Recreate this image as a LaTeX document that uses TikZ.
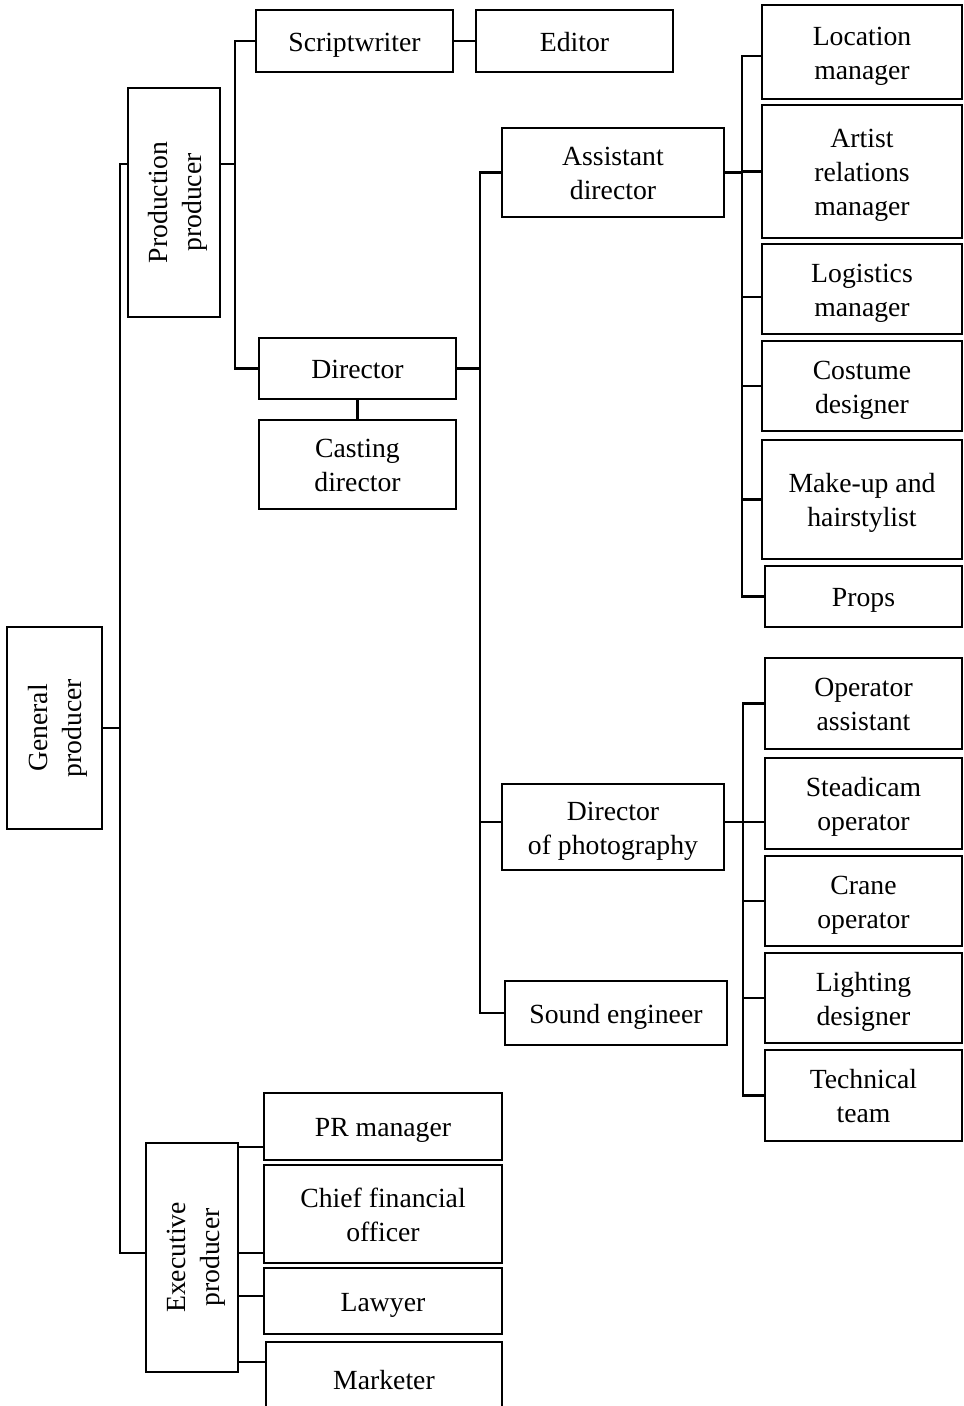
\documentclass[tikz,border=0pt]{standalone}
\usepackage{fontspec}
\setmainfont{Liberation Serif}
\newcommand\bt[2][-3.5pt]{\raisebox{#1}[\height][\depth]{\begin{tabular}{@{}c@{}}#2\end{tabular}}}
\begin{document}
\begin{tikzpicture}[x=1pt,y=-1pt,
  box/.style={draw, line width=2.8pt, inner sep=0pt, outer sep=0pt,
    font=\fontsize{27.7pt}{34pt}\selectfont},
  vtext/.style={rotate=90, inner sep=0pt, font=\fontsize{27.7pt}{34pt}\selectfont},
  conn/.style={line width=2.8pt}]
\useasboundingbox (0,0) rectangle (964,1406);
\clip (0,0) rectangle (964,1406);

% left column
\node[box, minimum width=95pt, minimum height=202pt] (gp) at (54.5,728) {};
\node[vtext] (gpt) at (gp) {\bt{General\\producer}};
\node[box, minimum width=92pt, minimum height=229pt] (pp) at (174,202.5) {};
\node[vtext] (ppt) at (pp) {\bt{Production\\producer}};
\node[box, minimum width=92pt, minimum height=229pt] (ep) at (192,1257.5) {};
\node[vtext] (ept) at (ep) {\bt{Executive\\producer}};

% production branch
\node[box, minimum width=197pt, minimum height=62pt] (sw) at (354.5,41) {\bt{Scriptwriter}};
\node[box, minimum width=197pt, minimum height=62pt] (ed) at (574.5,41) {\bt{Editor}};
\node[box, minimum width=197pt, minimum height=61pt] (dir) at (357.5,368.5) {\bt{Director}};
\node[box, minimum width=197pt, minimum height=89pt] (cd) at (357.5,464.5) {\bt{Casting\\director}};

\node[box, minimum width=222pt, minimum height=89pt] (ad) at (613,172.5) {\bt{Assistant\\director}};
\node[box, minimum width=222pt, minimum height=86pt] (dop) at (613,827) {\bt{Director\\of photography}};
\node[box, minimum width=222pt, minimum height=64pt] (se) at (616,1013) {\bt{Sound engineer}};

% assistant director children
\node[box, minimum width=200pt, minimum height=94pt] (loc) at (862,52) {\bt{Location\\manager}};
\node[box, minimum width=200pt, minimum height=133pt] (art) at (862,171.5) {\bt{Artist\\relations\\manager}};
\node[box, minimum width=200pt, minimum height=90pt] (log) at (862,289) {\bt{Logistics\\manager}};
\node[box, minimum width=200pt, minimum height=90pt] (cos) at (862,386) {\bt{Costume\\designer}};
\node[box, minimum width=200pt, minimum height=119pt] (mak) at (862,499.5) {\bt{Make-up and\\hairstylist}};
\node[box, minimum width=197pt, minimum height=61pt] (prp) at (863.5,596.5) {\bt{Props}};

% director of photography children
\node[box, minimum width=197pt, minimum height=91pt] (opa) at (863.5,703.5) {\bt{Operator\\assistant}};
\node[box, minimum width=197pt, minimum height=91pt] (ste) at (863.5,803.5) {\bt{Steadicam\\operator}};
\node[box, minimum width=197pt, minimum height=90pt] (cra) at (863.5,901) {\bt{Crane\\operator}};
\node[box, minimum width=197pt, minimum height=90pt] (lig) at (863.5,998) {\bt{Lighting\\designer}};
\node[box, minimum width=197pt, minimum height=91pt] (tec) at (863.5,1095.5) {\bt{Technical\\team}};

% executive children
\node[box, minimum width=238pt, minimum height=67pt] (pr) at (383,1126.5) {\bt{PR manager}};
\node[box, minimum width=238pt, minimum height=98pt] (cfo) at (383,1214) {\bt{Chief financial\\officer}};
\node[box, minimum width=238pt, minimum height=66pt] (law) at (383,1301) {\bt{Lawyer}};
\node[box, minimum width=236pt, minimum height=78pt] (mkt) at (384,1381) {\bt[-1.5pt]{Marketer}};

% trunk coordinates
\coordinate (t1) at (120,164);
\coordinate (t2) at (120,1253);
\coordinate (t3) at (235,41);
\coordinate (t4) at (480,0);
\coordinate (t5) at (742,0);
\coordinate (t6) at (743,0);

% general producer trunk
\draw[conn] (gp.east) -- (gp.east -| t1);
\draw[conn] (pp.west |- t1) -- (t1) -- (t2) -- (ep.west |- t2);

% production producer
\draw[conn] (pp.east |- t1) -- (t1 -| t3);
\draw[conn] (sw.west) -- (t3) |- (dir.west);
\draw[conn] (sw.east) -- (ed.west);
\draw[conn] (dir.south) -- (cd.north);

% director
\coordinate (dopw) at ([yshift=5pt]dop.west);
\coordinate (dope) at ([yshift=5pt]dop.east);
\draw[conn] (ad.west) -- (ad.west -| t4) |- (se.west);
\draw[conn] (dir.east) -- (dir.east -| t4);
\draw[conn] (dopw) -- (dopw -| t4);

% assistant director children
\coordinate (locc) at ([yshift=-4pt]loc.west);
\coordinate (logc) at ([yshift=-8pt]log.west);
\draw[conn] (locc) -- (locc -| t5) |- (prp.west);
\draw[conn] (ad.east) -- (ad.east -| t5);
\draw[conn] (art.west) -- (art.west -| t5);
\draw[conn] (logc) -- (logc -| t5);
\draw[conn] (cos.west) -- (cos.west -| t5);
\draw[conn] (mak.west) -- (mak.west -| t5);

% director of photography children
\draw[conn] (opa.west) -- (opa.west -| t6) |- (tec.west);
\draw[conn] (dope) -- (ste.west |- dope);
\draw[conn] (cra.west) -- (cra.west -| t6);
\draw[conn] (lig.west) -- (lig.west -| t6);

% executive children
\coordinate (c1) at ([yshift=-20.5pt]pr.west);
\coordinate (c2) at ([yshift=-39pt]cfo.west);
\coordinate (c3) at ([yshift=5pt]law.west);
\coordinate (c4) at ([yshift=19pt]mkt.west);
\draw[conn] (c1) -- (c1 -| ep.east);
\draw[conn] (c2) -- (c2 -| ep.east);
\draw[conn] (c3) -- (c3 -| ep.east);
\draw[conn] (c4) -- (c4 -| ep.east);
\end{tikzpicture}
\end{document}
